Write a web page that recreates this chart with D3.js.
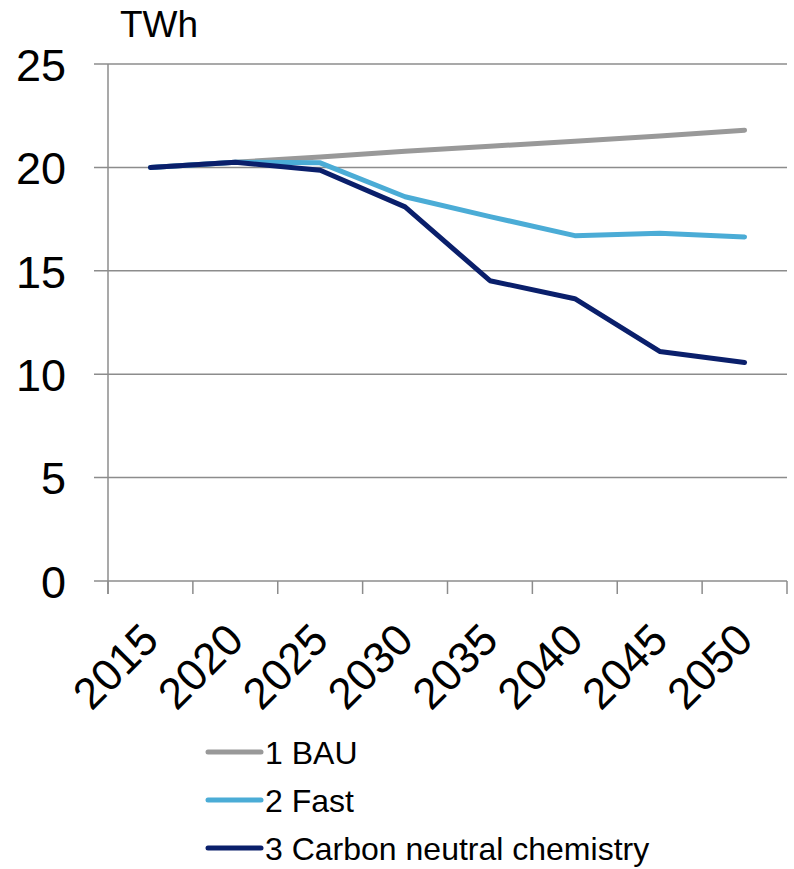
<!DOCTYPE html>
<html><head><meta charset="utf-8">
<script src="https://cdn.jsdelivr.net/npm/d3@7"></script>
<style>body{margin:0;background:#fff}svg{display:block;font-family:"Liberation Sans",Arial,sans-serif}</style>
</head><body>
<svg id="chart" width="794" height="869"></svg>
<script>
const years = ["2015","2020","2025","2030","2035","2040","2045","2050"];
const bau = [20.0, 20.25, 20.5, 20.78, 21.02, 21.27, 21.52, 21.8];
const fast = [20.0, 20.25, 20.22, 18.58, 17.62, 16.7, 16.82, 16.64];
const cnc = [20.0, 20.25, 19.86, 18.09, 14.52, 13.65, 11.1, 10.57];
const seriesNames = ["1 BAU", "2 Fast", "3 Carbon neutral chemistry"];
const seriesColors = ["#999999", "#4bacd6", "#0a1f6b"];
const yTicks = [0, 5, 10, 15, 20, 25];
const unit = "TWh";

const series = [bau, fast, cnc];
const svg = d3.select("#chart");
const x = d3.scaleBand().domain(years).range([108, 787]);
const y = d3.scaleLinear().domain([0, 25]).range([581, 64]);

// gridlines
svg.append("g").selectAll("line").data(yTicks).join("line")
  .attr("x1", 94).attr("x2", 787)
  .attr("y1", d => y(d)).attr("y2", d => y(d))
  .attr("stroke", "#8c8c8c").attr("stroke-width", 1.5);

// y axis
const yAxis = svg.append("g").attr("transform", "translate(108,0)")
  .call(d3.axisLeft(y).tickValues(yTicks).tickSize(0).tickPadding(0));
yAxis.select(".domain").remove();
yAxis.selectAll("text").attr("x", -42).attr("dy", "0.36em")
  .attr("font-size", 45).attr("fill", "#000").attr("font-family", "Liberation Sans, Arial, sans-serif");
svg.append("line").attr("x1", 108).attr("x2", 108).attr("y1", 64).attr("y2", 594)
  .attr("stroke", "#8c8c8c").attr("stroke-width", 1.5);

// x axis ticks
const tickXs = years.map(d => x(d)).concat([x.range()[1]]);
svg.append("g").selectAll("line").data(tickXs).join("line")
  .attr("x1", d => d).attr("x2", d => d).attr("y1", 581).attr("y2", 594)
  .attr("stroke", "#8c8c8c").attr("stroke-width", 1.5);

// x labels
svg.append("g").selectAll("text").data(years).join("text")
  .attr("transform", d => `translate(${x(d) + x.bandwidth()/2 - 12},${620}) rotate(-45)`)
  .attr("text-anchor", "end").attr("dy", "0.72em")
  .attr("font-size", 44).attr("fill", "#000")
  .text(d => d);

// unit label
svg.append("text").attr("x", 120).attr("y", 37).attr("font-size", 37).attr("fill", "#000").text(unit);

// lines
const line = d3.line().x((d, i) => x(years[i]) + x.bandwidth()/2).y(d => y(d));
svg.append("g").selectAll("path").data(series).join("path")
  .attr("d", d => line(d)).attr("fill", "none")
  .attr("stroke", (d, i) => seriesColors[i]).attr("stroke-width", 5)
  .attr("stroke-linecap", "round").attr("stroke-linejoin", "round");

// legend
const lg = svg.append("g").selectAll("g").data(seriesNames).join("g")
  .attr("transform", (d, i) => `translate(0,${752 + i * 48})`);
lg.append("line").attr("x1", 208).attr("x2", 261).attr("y1", 0).attr("y2", 0)
  .attr("stroke", (d, i) => seriesColors[i]).attr("stroke-width", 5).attr("stroke-linecap", "round");
lg.append("text").attr("x", 265).attr("dy", "0.36em").attr("font-size", 32).attr("fill", "#000").text(d => d);
</script>
</body></html>
